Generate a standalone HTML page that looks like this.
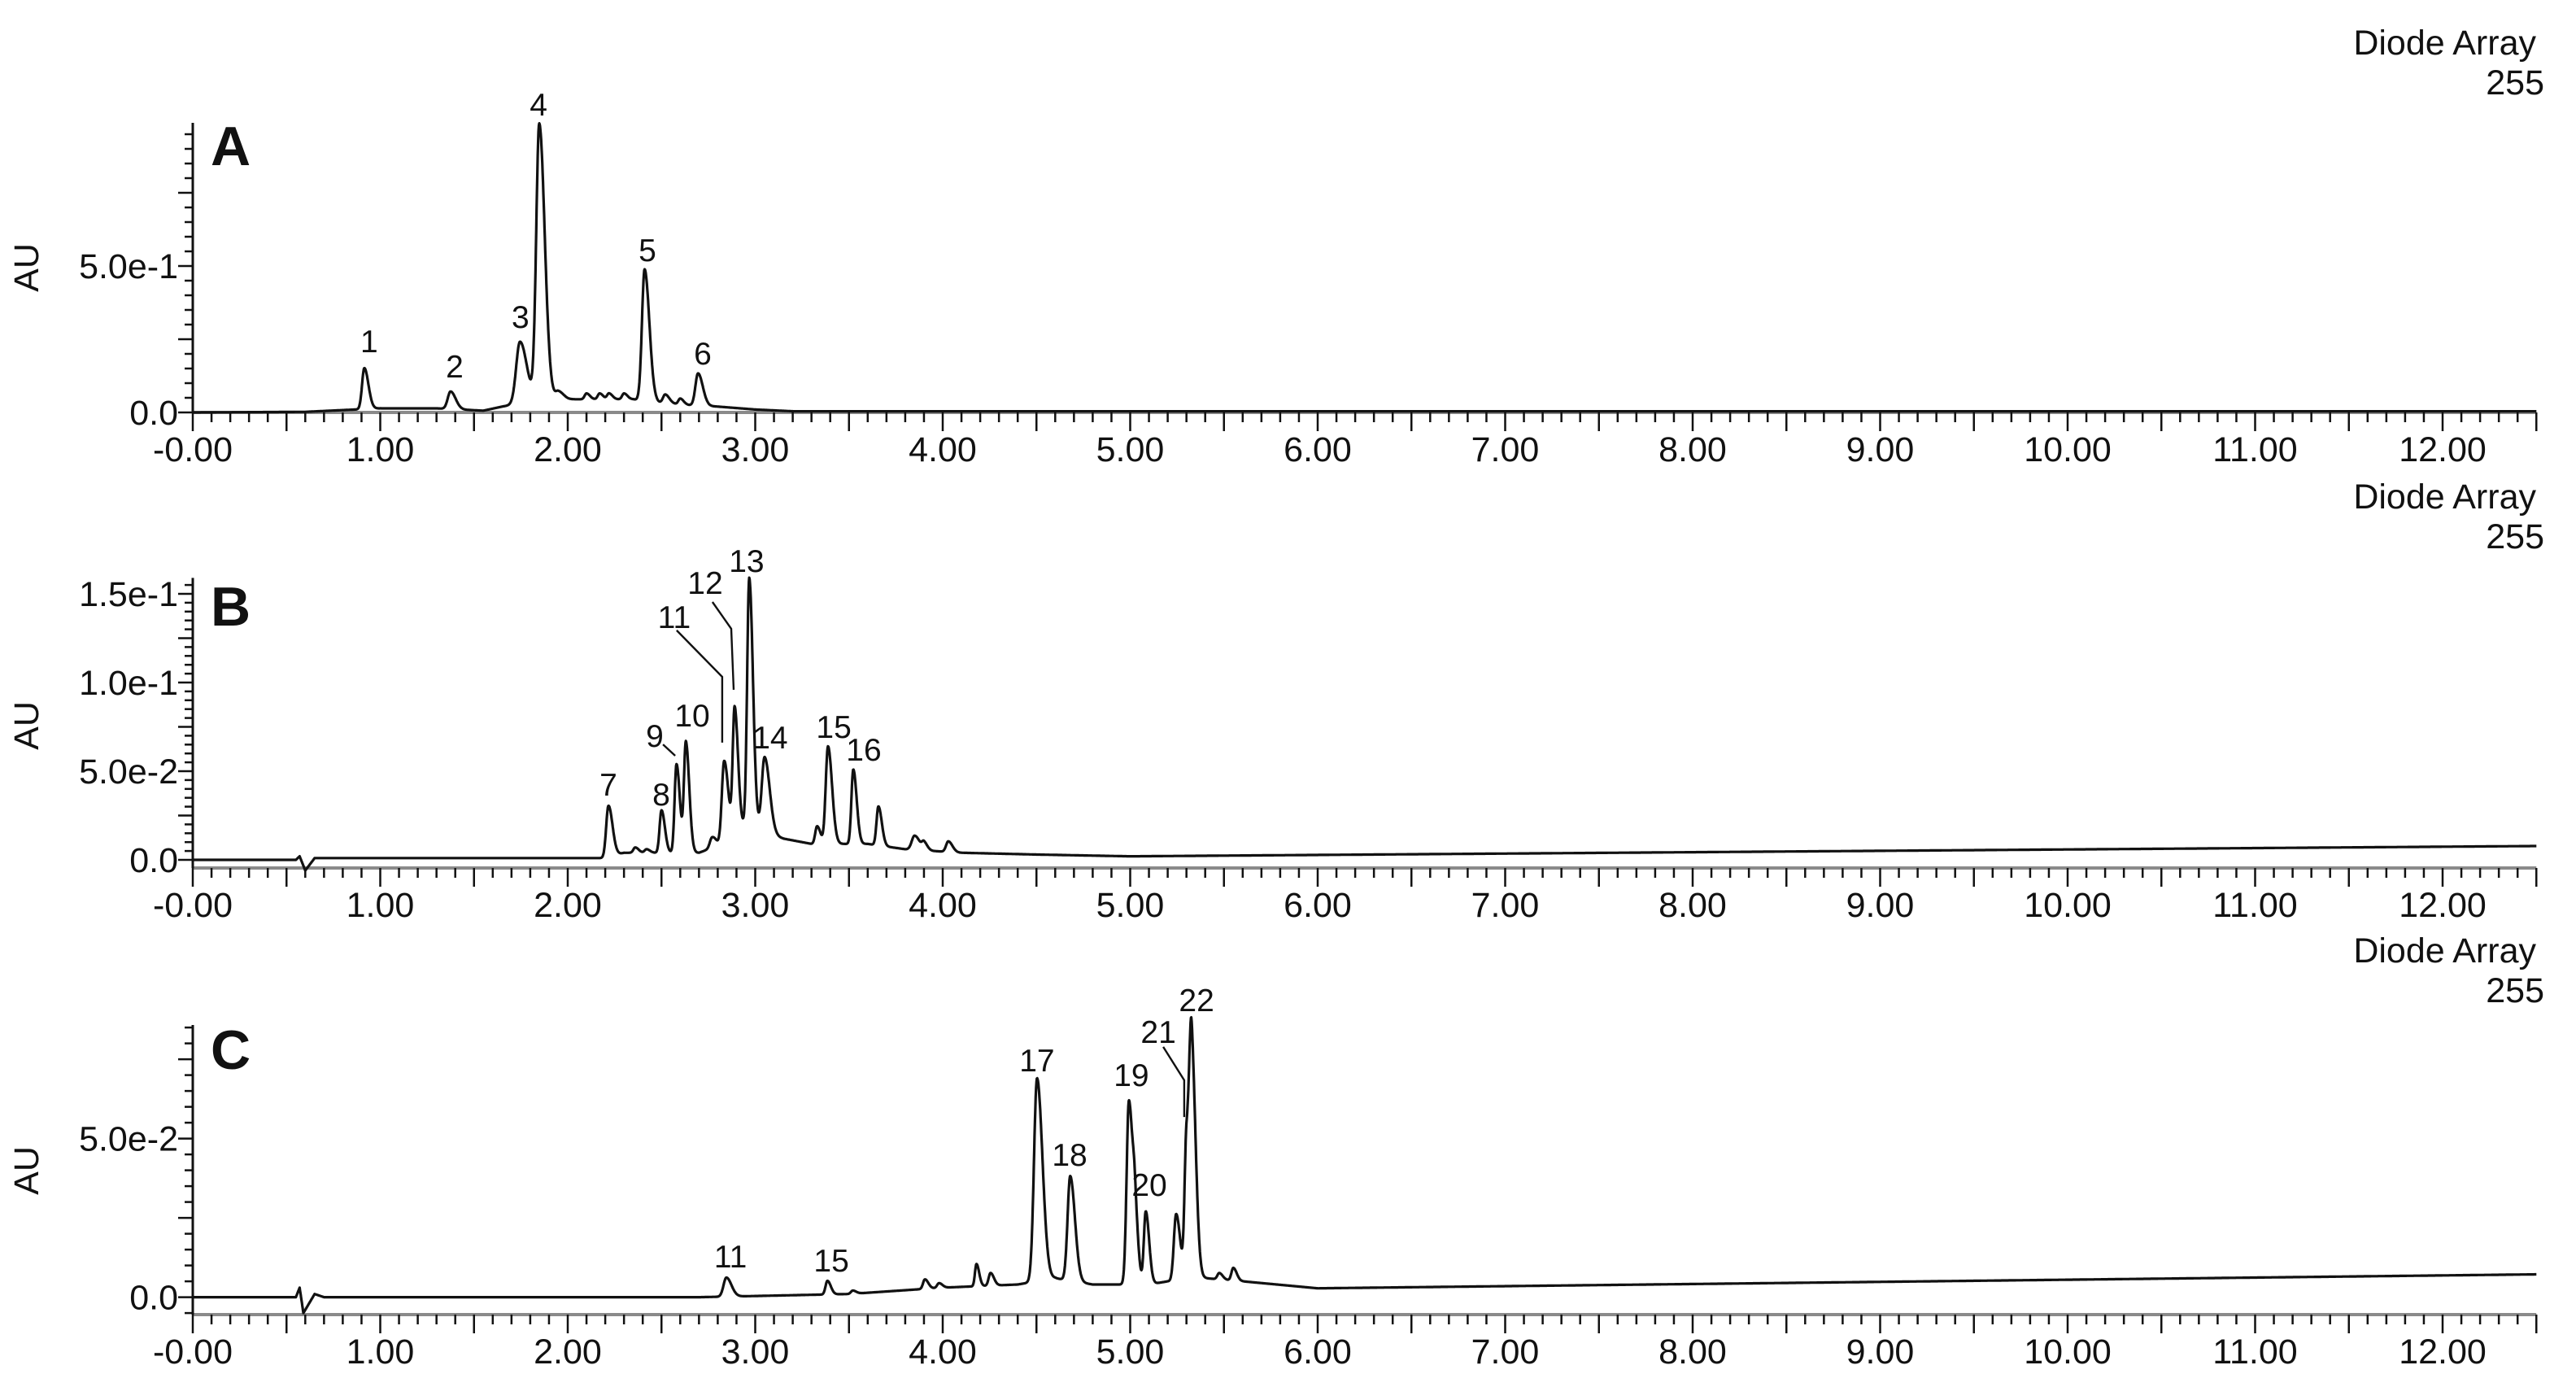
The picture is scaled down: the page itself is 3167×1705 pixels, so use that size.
<!DOCTYPE html>
<html><head><meta charset="utf-8"><style>
html,body{margin:0;padding:0;background:#fff;}
svg{display:block;}
text{font-family:"Liberation Sans",Arial,sans-serif;fill:#111;}
</style></head><body>
<svg id="chart" width="3167" height="1705" viewBox="0 0 3167 1705" xmlns="http://www.w3.org/2000/svg"></svg>
<script>
// ---------- Shared axis data ----------
const xTickLabels = ["-0.00","1.00","2.00","3.00","4.00","5.00","6.00","7.00","8.00","9.00","10.00","11.00","12.00"];
const xMax = 12.5;

// ---------- Panel A data ----------
const aBaseT = [0,0.6,0.8,1.0,1.3,1.55,1.65,1.9,2.0,2.35,2.45,2.65,2.8,3.0,3.2,12.5];
const aBaseV = [0,0.002,0.008,0.014,0.014,0.006,0.02,0.05,0.045,0.045,0.035,0.025,0.02,0.01,0.004,0.004];
const aPeakT = [0.915,1.375,1.745,1.848,2.41,2.695,1.95,2.1,2.17,2.22,2.3,2.52,2.6];
const aPeakH = [0.14,0.06,0.21,0.94,0.45,0.11,0.025,0.02,0.02,0.02,0.02,0.03,0.02];
const aPeakW = [0.012,0.015,0.02,0.016,0.014,0.014,0.015,0.01,0.01,0.01,0.01,0.012,0.01];
const aLabelText = ["1","2","3","4","5","6"];
const aLabelT = [0.941,1.397,1.748,1.844,2.425,2.72];
const aLabelV = [0.206,0.119,0.289,1.014,0.517,0.164];
const aYTickLabels = ["0.0","5.0e-1"];
const aYTickValues = [0,0.5];

// ---------- Panel B data ----------
const bBaseT = [0,0.55,0.57,0.6,0.65,2.2,2.3,2.45,2.7,2.8,2.95,3.05,3.15,3.3,3.6,3.8,4.1,4.5,5.0,12.5];
const bBaseV = [0,0,0.002,-0.006,0.001,0.001,0.004,0.004,0.004,0.008,0.02,0.015,0.012,0.009,0.009,0.006,0.004,0.003,0.002,0.0078];
const bPeakT = [2.217,2.36,2.42,2.50,2.58,2.63,2.77,2.834,2.89,2.968,3.05,3.33,3.388,3.523,3.657,3.85,3.9,4.03];
const bPeakH = [0.029,0.003,0.002,0.024,0.05,0.062,0.006,0.045,0.07,0.14,0.043,0.01,0.055,0.042,0.022,0.008,0.004,0.006];
const bPeakW = [0.012,0.01,0.01,0.01,0.01,0.01,0.012,0.012,0.01,0.011,0.015,0.01,0.012,0.01,0.01,0.015,0.01,0.012];
const bLabelText = ["7","8","9","10","11","12","13","14","15","16"];
const bLabelT = [2.217,2.499,2.464,2.664,2.568,2.733,2.954,3.080,3.419,3.579];
const bLabelV = [0.0362,0.0307,0.0638,0.0752,0.1307,0.15,0.1624,0.0628,0.0688,0.056];
const bLeaderT = [[2.508,2.573],[2.581,2.824,2.824],[2.772,2.872,2.885]];
const bLeaderV = [[0.0651,0.0587],[0.1294,0.1032,0.0661],[0.1454,0.1303,0.0959]];
const bYTickLabels = ["0.0","5.0e-2","1.0e-1","1.5e-1"];
const bYTickValues = [0,0.05,0.1,0.15];

// ---------- Panel C data ----------
const cBaseT = [0,0.55,0.57,0.59,0.65,0.7,2.7,3.5,4.0,4.4,4.6,4.8,5.1,5.2,5.4,5.6,6.0,12.5];
const cBaseV = [0,0,0.003,-0.005,0.001,0,0,0.001,0.003,0.004,0.006,0.004,0.004,0.005,0.006,0.005,0.0028,0.0072];
const cPeakT = [2.846,3.385,3.52,3.905,3.98,4.18,4.255,4.503,4.68,4.993,5.025,5.083,5.245,5.30,5.328,5.475,5.55];
const cPeakH = [0.006,0.0043,0.001,0.003,0.0015,0.007,0.004,0.064,0.033,0.058,0.016,0.023,0.021,0.044,0.068,0.002,0.004];
const cPeakW = [0.015,0.01,0.01,0.01,0.01,0.008,0.01,0.016,0.014,0.012,0.01,0.01,0.012,0.01,0.012,0.01,0.01];
const cLabelText = ["11","15","17","18","19","20","21","22"];
const cLabelT = [2.868,3.406,4.503,4.677,5.006,5.102,5.150,5.354];
const cLabelV = [0.0094,0.0081,0.0712,0.0414,0.0666,0.0320,0.0802,0.0902];
const cLeaderT = [[5.176,5.288,5.288]];
const cLeaderV = [[0.0789,0.0684,0.0568]];
const cYTickLabels = ["0.0","5.0e-2"];
const cYTickValues = [0,0.05];

// ---------- Layout ----------
const NS = "http://www.w3.org/2000/svg";
const svg = document.getElementById("chart");
const X0 = 237, PXPM = 230.5;
function xScale(t){ return X0 + t*PXPM; }

function el(tag, attrs, parent){
  const e = document.createElementNS(NS, tag);
  for (const k in attrs) e.setAttribute(k, attrs[k]);
  (parent||svg).appendChild(e);
  return e;
}
function interp(ts, vs, t){
  if (t <= ts[0]) return vs[0];
  for (let i=1;i<ts.length;i++){
    if (t <= ts[i]){ const f=(t-ts[i-1])/(ts[i]-ts[i-1]); return vs[i-1]+f*(vs[i]-vs[i-1]); }
  }
  return vs[vs.length-1];
}

function drawPanel(cfg){
  const g = el("g", {});
  
  
  const yScale = v => cfg.y0 - v*cfg.ppu;

  const xa = el("line", {x1:X0, y1:cfg.axisY, x2:xScale(xMax), y2:cfg.axisY, stroke:"#8a8a8a", "stroke-width":4}, g);
  
  
  for (let i=0;i<=125;i++){
    const t = i/10;
    const long = (i%5===0);
    const tk = el("line", {x1:xScale(t), y1:cfg.axisY, x2:xScale(t), y2:cfg.axisY+(long?23:12), stroke:"#111", "stroke-width":2.5}, g);
    
    
  }
  xTickLabels.forEach((lab,i)=>{
    const tx = el("text", {x:xScale(i), y:cfg.axisY+60, "font-size":43, "text-anchor":"middle"}, g);
    tx.textContent = lab;
    
    
  });
  const ya = el("line", {x1:X0, y1:yScale(cfg.yTop), x2:X0, y2:cfg.axisY, stroke:"#111", "stroke-width":3}, g);
  
  
  const nMin = Math.ceil((cfg.y0 - cfg.axisY)/cfg.ppu/cfg.minor - 1e-9);
  for (let k=nMin; k*cfg.minor <= cfg.yTop+1e-9; k++){
    const v = k*cfg.minor;
    const isMed = Math.abs(v/cfg.medium - Math.round(v/cfg.medium)) < 1e-6;
    const yy = yScale(v);
    if (yy > cfg.axisY+1) continue;
    const tk = el("line", {x1:X0-(isMed?18:10), y1:yy, x2:X0, y2:yy, stroke:"#111", "stroke-width":2.5}, g);
    
    
  }
  cfg.yLabels.forEach((lab,i)=>{
    const tx = el("text", {x:219, y:yScale(cfg.yValues[i])+15, "font-size":43, "text-anchor":"end"}, g);
    tx.textContent = lab;
    
    
  });
  const au = el("text", {x:0, y:0, "font-size":43, "text-anchor":"middle", transform:`translate(47,${cfg.auY}) rotate(-90)`}, g);
  au.textContent = "AU";
  
  
  const pl = el("text", {x:259, y:cfg.letterY, "font-size":68, "font-weight":"bold"}, g);
  pl.textContent = cfg.id.toUpperCase();
  
  
  const d1 = el("text", {x:3118, y:cfg.diodeY, "font-size":43, "text-anchor":"end"}, g);
  d1.textContent = "Diode Array";
  
  
  const d2 = el("text", {x:3128, y:cfg.diodeY+49, "font-size":43, "text-anchor":"end"}, g);
  d2.textContent = "255";
  
  

  let d = "";
  const step = 0.002;
  for (let i=0; i*step <= xMax+1e-9; i++){
    const t = i*step;
    let v = interp(cfg.baseT, cfg.baseV, t);
    for (let p=0;p<cfg.peakT.length;p++){
      const dt = t - cfg.peakT[p];
      const s = dt < 0 ? cfg.peakW[p] : cfg.peakW[p]*1.8;
      if (Math.abs(dt) < 8*s) v += cfg.peakH[p]*Math.exp(-0.5*dt*dt/(s*s));
    }
    d += (i===0?"M":"L") + xScale(t).toFixed(1) + "," + yScale(v).toFixed(1);
  }
  const tr = el("path", {d:d, fill:"none", stroke:"#111", "stroke-width":3.2, "stroke-linejoin":"round"}, g);
  
  

  cfg.labelText.forEach((lab,i)=>{
    const tx = el("text", {x:xScale(cfg.labelT[i]), y:yScale(cfg.labelV[i]), "font-size":39, "text-anchor":"middle"}, g);
    tx.textContent = lab;
    
    
  });
  (cfg.leaderT||[]).forEach((ts,i)=>{
    const pts = ts.map((t,j)=> xScale(t).toFixed(1)+","+yScale(cfg.leaderV[i][j]).toFixed(1)).join(" ");
    const pl2 = el("polyline", {points:pts, fill:"none", stroke:"#111", "stroke-width":2.4}, g);
    
    
  });
}

drawPanel({id:"a", y0:507, ppu:360, axisY:507, yTop:0.989, minor:0.05, medium:0.25,
  yLabels:aYTickLabels, yValues:aYTickValues, auY:329, letterY:203, diodeY:67,
  baseT:aBaseT, baseV:aBaseV, peakT:aPeakT, peakH:aPeakH, peakW:aPeakW,
  labelText:aLabelText, labelT:aLabelT, labelV:aLabelV});
drawPanel({id:"b", y0:1057, ppu:2180, axisY:1067, yTop:0.159, minor:0.005, medium:0.025,
  yLabels:bYTickLabels, yValues:bYTickValues, auY:892, letterY:769, diodeY:625,
  baseT:bBaseT, baseV:bBaseV, peakT:bPeakT, peakH:bPeakH, peakW:bPeakW,
  labelText:bLabelText, labelT:bLabelT, labelV:bLabelV, leaderT:bLeaderT, leaderV:bLeaderV});
drawPanel({id:"c", y0:1594.6, ppu:3900, axisY:1616, yTop:0.0858, minor:0.005, medium:0.025,
  yLabels:cYTickLabels, yValues:cYTickValues, auY:1439, letterY:1314, diodeY:1183,
  baseT:cBaseT, baseV:cBaseV, peakT:cPeakT, peakH:cPeakH, peakW:cPeakW,
  labelText:cLabelText, labelT:cLabelT, labelV:cLabelV, leaderT:cLeaderT, leaderV:cLeaderV});
</script>
</body></html>
